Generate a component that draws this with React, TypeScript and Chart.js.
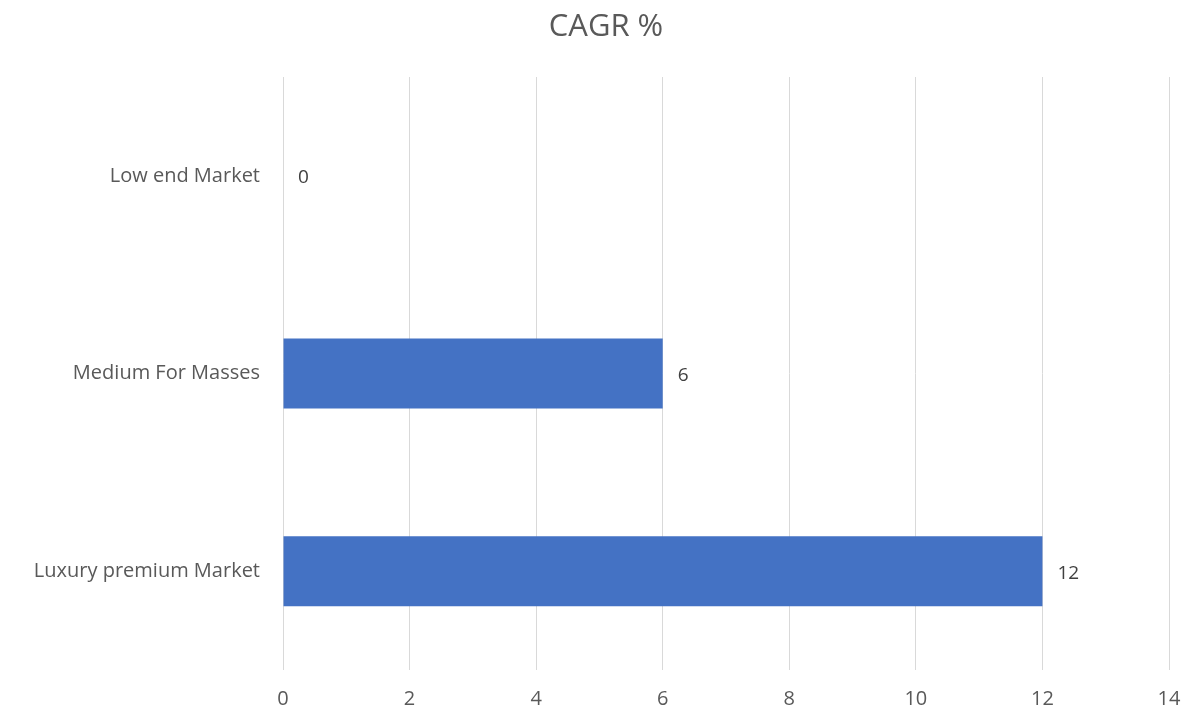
import React, { useEffect, useRef } from "react";
import { Chart, registerables } from "chart.js";

Chart.register(...registerables);

const categories = ["Low end Market", "Medium For Masses", "Luxury premium Market"];
const values = [0, 6, 12];
const titleText = "CAGR %";
const FONT = "'Open Sans', 'Noto Sans', sans-serif";
const TEXT = "#595959";

const dataLabels = {
  id: "dataLabels",
  afterDatasetsDraw(chart: any) {
    const ctx = chart.ctx;
    const meta = chart.getDatasetMeta(0);
    ctx.save();
    ctx.fillStyle = "#404040";
    ctx.font = `19px ${FONT}`;
    ctx.textAlign = "left";
    ctx.textBaseline = "middle";
    meta.data.forEach((bar: any, i: number) => {
      ctx.fillText(String(values[i]), bar.x + 15, bar.y + 2);
    });
    ctx.restore();
  },
};

const titlePlugin = {
  id: "customTitle",
  afterDraw(chart: any) {
    const ctx = chart.ctx;
    ctx.save();
    ctx.fillStyle = TEXT;
    ctx.font = `31px ${FONT}`;
    ctx.textAlign = "center";
    ctx.textBaseline = "middle";
    ctx.fillText(titleText, chart.width / 2 + 5, 27);
    ctx.restore();
  },
};

export default function App() {
  const ref = useRef<HTMLCanvasElement>(null);
  useEffect(() => {
    document.body.style.margin = "0";
    const chart = new Chart(ref.current!, {
      type: "bar",
      data: {
        labels: categories,
        datasets: [
          {
            data: values,
            backgroundColor: "#4472C4",
            barPercentage: 0.354,
            categoryPercentage: 1,
          },
        ],
      },
      options: {
        indexAxis: "y",
        animation: false,
        responsive: false,
        layout: { padding: { left: 0, right: 33, top: 77, bottom: 0 } },
        plugins: {
          legend: { display: false },
          tooltip: { enabled: false },
          title: { display: false },
        },
        scales: {
          x: {
            min: 0,
            max: 14,
            ticks: { stepSize: 2, color: TEXT, font: { family: FONT, size: 20 }, padding: 17 },
            grid: { color: "#d9d9d9", drawTicks: false, lineWidth: 1 },
            border: { display: false },
            afterFit: (s: any) => { s.height = 42; },
          },
          y: {
            ticks: { color: TEXT, font: { family: FONT, size: 20 }, padding: 23 },
            grid: { display: false, drawTicks: false },
            border: { display: false },
            afterFit: (s: any) => { s.width = 283; },
          },
        },
      },
      plugins: [dataLabels, titlePlugin],
    });
    return () => chart.destroy();
  }, []);
  return (
    <div style={{ width: 1202, height: 712, background: "#fff" }}>
      <canvas ref={ref} width={1202} height={712} style={{ display: "block" }} />
    </div>
  );
}
